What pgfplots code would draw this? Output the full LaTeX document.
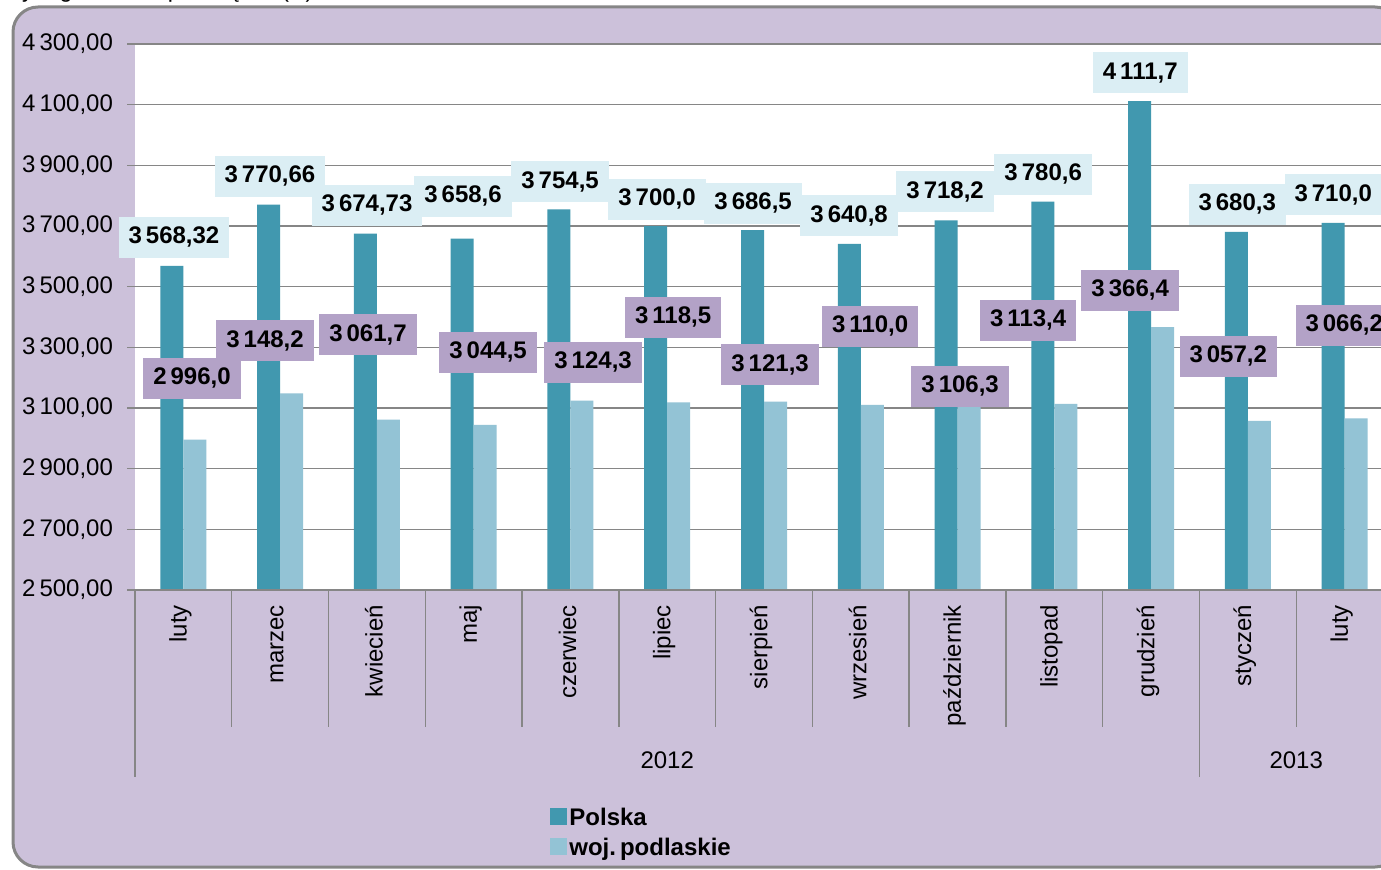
\documentclass[border=0pt]{standalone}
\usepackage{fontspec}
\setmainfont{Liberation Sans}
\usepackage{pgfplots}
\usepackage{pgfplotstable}
\pgfplotsset{compat=1.18}
\definecolor{bg}{RGB}{204,193,218}
\definecolor{polska}{RGB}{65,152,175}
\definecolor{podl}{RGB}{147,195,213}
\definecolor{polbox}{RGB}{219,238,244}
\definecolor{podbox}{RGB}{179,162,199}
\definecolor{gridc}{RGB}{134,134,134}

\pgfplotstableread{
x pol pod
0 3568.32 2996.0
1 3770.66 3148.2
2 3674.73 3061.7
3 3658.6 3044.5
4 3754.5 3124.3
5 3700.0 3118.5
6 3686.5 3121.3
7 3640.8 3110.0
8 3718.2 3106.3
9 3780.6 3113.4
10 4111.7 3366.4
11 3680.3 3057.2
12 3710.0 3066.2
}\datatable

\pgfplotstableread{
lx ly lab
-0.097 3663.7 {3\,568,32}
0.895 3864.8 {3\,770,66}
1.898 3769.2 {3\,674,73}
2.890 3798.9 {3\,658,6}
3.893 3845.1 {3\,754,5}
4.895 3789.0 {3\,700,0}
5.888 3775.8 {3\,686,5}
6.880 3733.0 {3\,640,8}
7.872 3812.1 {3\,718,2}
8.885 3871.4 {3\,780,6}
9.888 4204.4 {4\,111,7}
10.890 3772.5 {3\,680,3}
11.882 3802.2 {3\,710,0}
}\polLab

\pgfplotstableread{
lx ly lab
0.089 3198.9 {2\,996,0}
0.844 3320.9 {3\,148,2}
1.908 3340.7 {3\,061,7}
3.149 3284.6 {3\,044,5}
4.234 3251.6 {3\,124,3}
5.061 3400.0 {3\,118,5}
6.063 3241.8 {3\,121,3}
7.097 3370.3 {3\,110,0}
8.027 3172.5 {3\,106,3}
8.730 3390.1 {3\,113,4}
9.784 3489.0 {3\,366,4}
10.797 3271.4 {3\,057,2}
11.996 3373.6 {3\,066,2}
}\podLab

\pgfplotsset{chartbase/.style={
  scale only axis, width=629pt, height=273pt,
  at={(67.5pt,139.5pt)}, anchor=south west,
  xmin=-0.5, xmax=12.5, ymin=2500, ymax=4300}}

\begin{document}
\begin{tikzpicture}
\useasboundingbox (0,0) rectangle (690.5pt,434.5pt);
\clip (0,0) rectangle (690.5pt,434.5pt);
\draw[rounded corners=12.5pt, line width=1.5pt, draw=gridc, fill=bg] (6.5pt,1pt) rectangle (700pt,431pt);
\node[anchor=base west, font=\fontsize{11.6}{14}\selectfont, inner sep=0pt] at (0pt,435.5pt) {Wynagrodzenie przeciętne (zł)};

\begin{axis}[chartbase,
  axis background/.style={fill=white},
  axis line style={draw=none},
  tick pos=left, tick align=outside,
  major tick length=4pt,
  ytick={2500,2700,...,4300},
  yticklabels={{2\,500,00},{2\,700,00},{2\,900,00},{3\,100,00},{3\,300,00},{3\,500,00},{3\,700,00},{3\,900,00},{4\,100,00},{4\,300,00}},
  ymajorgrids, grid style={gridc, line width=0.7pt},
  ytick style={gridc, line width=0.7pt},
  xtick={0,...,12},
  xticklabels={luty,marzec,kwiecień,maj,czerwiec,lipiec,sierpień,wrzesień,październik,listopad,grudzień,styczeń,luty},
  xtick style={draw=none},
  tick label style={font=\fontsize{12}{14}\selectfont},
  yticklabel style={xshift=-3.5pt},
  xticklabel style={rotate=90, anchor=east, yshift=1.5pt},
  legend style={at={(0.3299,-0.394)}, anchor=north west, draw=none, fill=none,
    inner sep=0pt, font=\bfseries\fontsize{12}{14}\selectfont, row sep=1pt,
    nodes={inner sep=1pt, text height=9pt, text depth=3pt}},
  legend cell align=left,
]
\addplot[ybar, bar width=11.5pt, bar shift=-5.75pt, fill=polska, draw=none,
  legend image code/.code={\fill[polska] (0pt,-2.75pt) rectangle (8.5pt,5.75pt);}]
  table[x=x, y=pol] {\datatable};
\addlegendentry{Polska}
\addplot[ybar, bar width=11.5pt, bar shift=5.75pt, fill=podl, draw=none,
  legend image code/.code={\fill[podl] (0pt,-2.75pt) rectangle (8.5pt,5.75pt);}]
  table[x=x, y=pod] {\datatable};
\addlegendentry{woj.\,podlaskie}
\end{axis}

\begin{axis}[chartbase, hide axis, clip=false]
\pgfplotsinvokeforeach{0.5,1.5,2.5,3.5,4.5,5.5,6.5,7.5,8.5,9.5,11.5}{
  \draw[gridc, line width=0.7pt] (axis cs:#1,2500) -- ++(0pt,-68.5pt);
}
\pgfplotsinvokeforeach{-0.5,10.5}{
  \draw[gridc, line width=0.7pt] (axis cs:#1,2500) -- ++(0pt,-93.5pt);
}
\draw[gridc, line width=1pt] (axis cs:-0.5,2500) -- (axis cs:12.5,2500);
\node[font=\fontsize{12}{14}\selectfont] at (axis cs:5,2500) [yshift=-85pt] {2012};
\node[font=\fontsize{12}{14}\selectfont] at (axis cs:11.5,2500) [yshift=-85pt] {2013};
\addplot[only marks, mark=*, mark size=0pt, mark options={draw=none, fill=none},
  nodes near coords, point meta=explicit symbolic,
  every node near coord/.append style={anchor=center, fill=podbox, text=black,
    font=\bfseries\fontsize{12}{14}\selectfont, inner xsep=5pt, inner ysep=0pt, minimum height=20.5pt}]
  table[x=lx, y=ly, meta=lab] {\podLab};
\addplot[only marks, mark=*, mark size=0pt, mark options={draw=none, fill=none},
  nodes near coords, point meta=explicit symbolic,
  every node near coord/.append style={anchor=center, fill=polbox, text=black,
    font=\bfseries\fontsize{12}{14}\selectfont, inner xsep=5pt, inner ysep=0pt, minimum height=20.5pt}]
  table[x=lx, y=ly, meta=lab] {\polLab};
\end{axis}
\end{tikzpicture}
\end{document}
